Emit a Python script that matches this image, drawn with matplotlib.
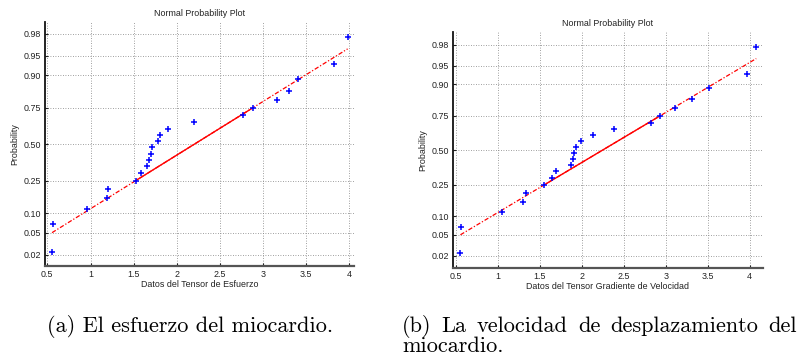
import numpy as np
import matplotlib
matplotlib.use("Agg")
import matplotlib.pyplot as plt
from statistics import NormalDist

# plotting positions (i - 0.5) / 22 used by normplot
prob = [0.0227, 0.0682, 0.1136, 0.1591, 0.2045, 0.2500, 0.2955, 0.3409,
        0.3864, 0.4318, 0.4773, 0.5227, 0.5682, 0.6136, 0.6591, 0.7045,
        0.7500, 0.7955, 0.8409, 0.8864, 0.9318, 0.9773]

# (a) stress tensor data, sorted
esfuerzo = [0.554, 0.562, 0.960, 1.188, 1.200, 1.525, 1.583, 1.652, 1.676,
            1.699, 1.710, 1.788, 1.807, 1.900, 2.201, 2.762, 2.878, 3.157,
            3.300, 3.408, 3.818, 3.980]

# (b) velocity gradient tensor data, sorted
velocidad = [0.556, 0.560, 1.046, 1.305, 1.335, 1.552, 1.647, 1.699, 1.874,
             1.898, 1.906, 1.930, 1.986, 2.133, 2.380, 2.827, 2.938, 3.109,
             3.309, 3.520, 3.970, 4.078]

ytick_p = [0.02, 0.05, 0.10, 0.25, 0.50, 0.75, 0.90, 0.95, 0.98]
ytick_lbl = ["0.02", "0.05", "0.10", "0.25", "0.50", "0.75", "0.90", "0.95", "0.98"]
xticks = [0.5, 1, 1.5, 2, 2.5, 3, 3.5, 4]
xtick_lbl = ["0.5", "1", "1.5", "2", "2.5", "3", "3.5", "4"]

# caption (b) first line is justified in the source
cap_b_words = ["(b)", "La", "velocidad", "de", "desplazamiento", "del"]

ND = NormalDist()
_ppf = np.vectorize(lambda p: ND.inv_cdf(min(max(p, 1e-9), 1 - 1e-9)),
                    otypes=[float])
_cdf = np.vectorize(ND.cdf, otypes=[float])

FONT = ["Liberation Sans", "DejaVu Sans"]
TFS = 6.4


def normplot(ax, x, xlabel, xlim, zlim):
    x = np.asarray(x)
    p = np.asarray(prob)
    ax.set_yscale("function", functions=(_ppf, _cdf))

    # reference line through the quartiles
    q1, q3 = np.interp(0.25, p, x), np.interp(0.75, p, x)
    z1, z3 = ND.inv_cdf(0.25), ND.inv_cdf(0.75)
    slope = (z3 - z1) / (q3 - q1)
    ends = np.array([x.min(), x.max()])
    ax.plot(ends, _cdf(z1 + slope * (ends - q1)), color="red", lw=0.9,
            ls=(0, (3.5, 1.5, 1, 1.5)), zorder=3)
    mid = np.array([q1, q3])
    ax.plot(mid, _cdf(z1 + slope * (mid - q1)), color="red", lw=1.0, zorder=3)

    ax.plot(x, p, ls="none", marker="+", color="blue", ms=4.5, mew=1.1,
            zorder=4)

    ax.set_xlim(*xlim)
    ax.set_ylim(ND.cdf(zlim[0]), ND.cdf(zlim[1]))
    ax.set_xticks(xticks)
    ax.set_xticklabels(xtick_lbl, family=FONT, fontsize=TFS)
    ax.set_yticks(ytick_p)
    ax.set_yticklabels(ytick_lbl, family=FONT, fontsize=TFS)
    ax.minorticks_off()
    ax.tick_params(direction="in", length=2.5, width=0.8, pad=3,
                   colors="#222222")
    ax.grid(True, color="0.5", lw=0.6, ls=(0, (1, 2)))
    ax.set_axisbelow(True)
    for s in ("top", "right"):
        ax.spines[s].set_visible(False)
    ax.spines["left"].set_linewidth(1.3)
    ax.spines["left"].set_color("#111111")
    ax.spines["bottom"].set_linewidth(1.6)
    ax.spines["bottom"].set_color("#555555")
    ax.set_title("Normal Probability Plot", family=FONT, fontsize=TFS,
                 pad=4, color="#222222")
    ax.set_xlabel(xlabel, family=FONT, fontsize=TFS, labelpad=1,
                  color="#222222")
    ax.set_ylabel("Probability", family=FONT, fontsize=TFS, labelpad=3,
                  color="#222222")


fig = plt.figure(figsize=(8, 3.63), dpi=100)
ax1 = fig.add_axes([0.0563, 0.268, 0.3862, 0.6714])
ax2 = fig.add_axes([0.5666, 0.2625, 0.3868, 0.6493])

normplot(ax1, esfuerzo, "Datos del Tensor de Esfuerzo", (0.473, 4.054),
         (-2.257, 2.273))
normplot(ax2, velocidad, "Datos del Tensor Gradiente de Velocidad",
         (0.471, 4.155), (-2.284, 2.30))

CAP = dict(family="cmr10", fontsize=16, color="black", va="baseline")
fig.text(47 / 800, 1 - 332.5 / 363, "(a) El esfuerzo del miocardio.", **CAP)

# justify the first line of caption (b) between x=402 and x=797 px
renderer = fig.canvas.get_renderer()
texts = [fig.text(0, 1 - 332.5 / 363, w, **CAP) for w in cap_b_words]
widths = [t.get_window_extent(renderer).width for t in texts]
gap = (797 - 402 - sum(widths)) / (len(texts) - 1)
xp = 402.0
for t, w in zip(texts, widths):
    t.set_x(xp / 800)
    xp += w + gap
fig.text(402 / 800, 1 - 352 / 363, "miocardio.", **CAP)

fig.savefig("out.png", dpi=100)
